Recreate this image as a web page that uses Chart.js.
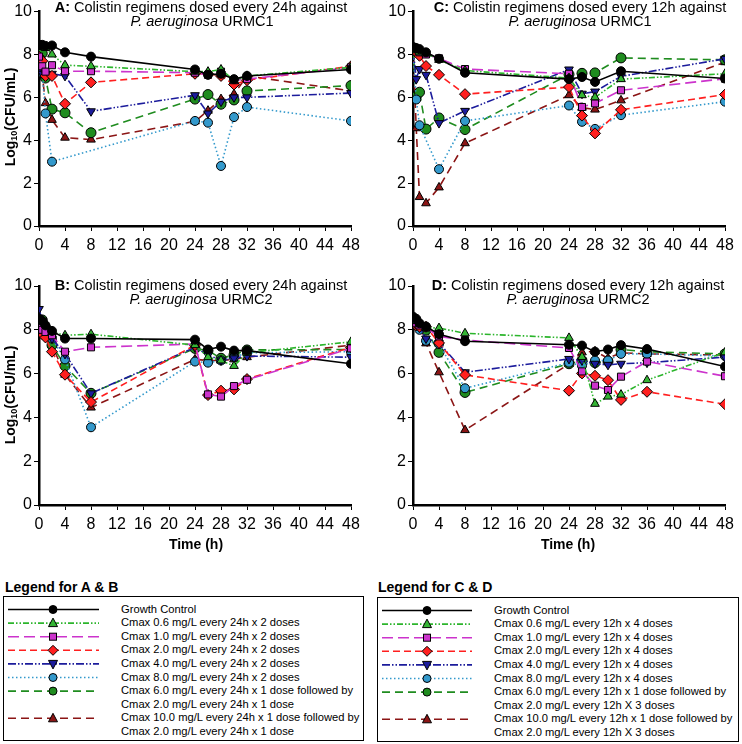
<!DOCTYPE html>
<html>
<head>
<meta charset="utf-8">
<script src="https://cdn.jsdelivr.net/npm/chart.js@4.4.1/dist/chart.umd.min.js"></script>
<style>
  html, body { margin: 0; padding: 0; background: #fff; }
  body { width: 742px; height: 744px; position: relative; overflow: hidden;
         font-family: "Liberation Sans", Arial, sans-serif; color: #000; }
  canvas { position: absolute; }
  .ttl { position: absolute; width: 400px; text-align: center; font-size: 14.5px;
         line-height: 14px; white-space: nowrap; }
  .ylab { position: absolute; width: 200px; text-align: center; font-weight: bold;
          font-size: 14px; transform: translate(-50%, -50%) rotate(-90deg); white-space: nowrap; }
  .ylab sub { font-size: 9px; vertical-align: -2px; }
  .xlab { position: absolute; width: 200px; text-align: center; font-weight: bold; font-size: 14px; }
  .legtitle { position: absolute; font-weight: bold; font-size: 14px; }
  .legbox { position: absolute; border: 1px solid #000; box-sizing: border-box; }
  .legtext { position: absolute; font-size: 11.2px; line-height: 13.6px; white-space: nowrap; }
  .legbox svg { position: absolute; left: 0; top: 0; }
</style>
</head>
<body>
<canvas id="chartA" width="371" height="260" style="left:0;top:0"></canvas>
<canvas id="chartC" width="371" height="260" style="left:371px;top:0"></canvas>
<canvas id="chartB" width="371" height="300" style="left:0;top:260px"></canvas>
<canvas id="chartD" width="371" height="300" style="left:371px;top:260px"></canvas>

<div class="ttl" style="left:1px;top:0"><b>A:</b> Colistin regimens dosed every 24h against</div>
<div class="ttl" style="left:2px;top:14px"><i>P. aeruginosa</i> URMC1</div>
<div class="ttl" style="left:380px;top:0"><b>C:</b> Colistin regimens dosed every 12h against</div>
<div class="ttl" style="left:380px;top:14px"><i>P. aeruginosa</i> URMC1</div>
<div class="ttl" style="left:1px;top:278px"><b>B:</b> Colistin regimens dosed every 24h against</div>
<div class="ttl" style="left:1px;top:292px"><i>P. aeruginosa</i> URMC2</div>
<div class="ttl" style="left:378px;top:278px"><b>D:</b> Colistin regimens dosed every 12h against</div>
<div class="ttl" style="left:378px;top:292px"><i>P. aeruginosa</i> URMC2</div>

<div class="ylab" style="left:10px;top:117px">Log<sub>10</sub>(CFU/mL)</div>
<div class="ylab" style="left:10px;top:395px">Log<sub>10</sub>(CFU/mL)</div>
<div class="xlab" style="left:96px;top:536px">Time (h)</div>
<div class="xlab" style="left:468px;top:536px">Time (h)</div>

<div class="legtitle" style="left:5px;top:579px">Legend for A &amp; B</div>
<div class="legtitle" style="left:378px;top:579px">Legend for C &amp; D</div>
<div class="legbox" id="legAB" style="left:3px;top:596px;width:361px;height:145px"></div>
<div class="legbox" id="legCD" style="left:377px;top:597px;width:362px;height:145px"></div>

<script>
// sampling times (h)
const times24 = [0, 0.5, 1, 2, 4, 8, 24, 26, 28, 30, 32, 48];
const timesC = [0, 0.5, 1, 2, 4, 8, 24, 26, 28, 32, 48];
const timesD = [0, 0.5, 1, 2, 4, 8, 24, 26, 28, 30, 32, 36, 48];

const xTickValues = [0, 4, 8, 12, 16, 20, 24, 28, 32, 36, 40, 44, 48];
const yTickValues = [0, 2, 4, 6, 8, 10];

// log10 CFU/mL, one row per regimen (same order as the legends)
const valuesA = [
  [8.45, 8.45, 8.4, 8.42, 8.1, 7.9, 7.3, 7.05, 7.1, 6.85, 7.0, 7.3],
  [8.4, 8.35, 8.3, 8.0, 7.5, 7.45, 7.2, 7.2, 7.3, 6.8, 7.0, 7.4],
  [7.9, 7.45, 7.2, 7.5, 7.22, 7.22, 7.15, 7.05, 7.2, 6.8, 6.85, 7.4],
  [7.9, 7.7, 7.0, 7.0, 5.7, 6.7, 7.1, 7.1, 7.0, 6.6, 6.8, 7.45],
  [7.3, 7.1, 7.1, 7.1, 7.0, 5.35, 6.1, 5.25, 5.8, 6.0, 6.0, 6.2],
  [7.2, 7.15, 5.25, 3.0, null, null, 4.9, 4.82, 2.8, 5.08, 5.55, 4.9],
  [8.3, 8.05, 6.9, 5.45, 5.28, 4.35, 5.92, 6.13, 5.68, 5.88, 6.3, 6.55],
  [8.45, 7.05, 5.73, 4.95, 4.12, 4.03, 4.88, 5.38, 5.92, 6.15, 7.0, 6.3]
];

const valuesB = [
  [8.5, 8.4, 8.2, 7.95, 7.6, 7.6, 7.55, 7.1, 7.23, 7.05, 7.05, 6.45],
  [8.5, 8.45, 8.3, 7.9, 7.75, 7.8, 7.3, 6.75, 6.6, 6.35, 6.95, 7.45],
  [8.3, 8.0, 7.9, 7.75, 7.0, 7.2, 7.35, 5.05, 4.95, 5.43, 5.72, 7.15],
  [8.4, 7.8, 7.65, 7.0, 5.95, 4.7, 7.3, 5.02, 5.22, 5.28, 5.75, 7.2],
  [8.95, 8.4, 8.1, 7.6, 6.9, 5.1, 7.2, 6.85, 6.6, 6.7, 6.8, 6.75],
  [8.4, 8.2, 8.0, 7.6, 6.65, 3.55, 6.55, 6.5, 6.6, 6.75, 6.95, 7.0],
  [8.4, 8.45, 8.1, 7.3, 6.35, 5.1, 7.15, 7.05, 6.7, 6.85, 7.08, 7.1],
  [8.6, 8.4, 8.15, 7.3, 5.95, 4.45, 6.65, 6.6, 6.6, 6.65, 6.75, 7.3]
];

const valuesC = [
  [8.35, 8.3, 8.25, 8.1, 7.8, 7.15, 6.85, 6.95, 6.72, 7.22, 6.88],
  [8.2, 8.2, 8.1, 8.05, 7.75, 7.25, 6.9, 6.1, 6.0, 6.85, 7.1],
  [8.35, 8.25, 8.1, 8.0, 7.82, 7.32, 7.1, 5.55, 5.72, 6.33, 6.87],
  [8.25, 8.1, 7.94, 7.46, 7.05, 6.15, 6.48, 5.15, 4.32, 5.42, 6.13],
  [8.3, 6.85, 7.32, 7.05, 4.8, 5.37, 7.3, 6.17, 6.27, 6.98, 7.8],
  [8.2, 5.9, 4.7, null, 2.65, 4.9, 5.62, 4.86, 4.53, 5.17, 5.8],
  [8.2, 6.05, 6.24, 4.52, 5.04, 4.5, 7.07, 7.12, 7.14, 7.84, 7.75],
  [8.3, 4.56, 1.35, 1.06, 1.8, 3.86, 6.1, 5.52, 5.43, 5.86, 7.64]
];

const valuesD = [
  [8.6, 8.5, 8.3, 8.15, 7.8, 7.48, 7.32, 7.28, 7.0, 7.1, 7.3, 7.12, 6.32],
  [8.5, 8.4, 8.3, 8.1, 8.08, 7.84, 7.63, 6.76, 4.62, 4.95, 5.04, 5.7, 6.97],
  [8.4, 8.3, 8.2, 8.1, 7.7, 7.53, 7.17, 6.1, 5.45, 5.25, 5.86, 6.55, 5.88],
  [8.3, 8.2, 8.14, 8.14, 7.4, 5.94, 5.22, 6.01, 5.9, 5.7, 4.8, 5.17, 4.6],
  [8.4, 8.3, 8.1, 7.6, 7.4, 6.06, 6.67, 6.6, 6.45, 6.4, 6.45, 6.5, 6.75],
  [8.3, 8.2, 8.0, 7.5, 7.35, 5.33, 6.5, 6.36, 6.6, 6.6, 6.9, 6.9, 6.8],
  [8.3, 8.3, 8.2, 7.99, 6.97, 5.14, 6.45, 6.6, 6.5, 6.55, 7.1, 7.0, 6.9],
  [8.6, 8.3, 8.2, 7.38, 6.06, 3.42, 6.44, 6.97, 7.02, 6.7, 6.95, 6.9, 6.85]
];

const labelsAB = [
  'Growth Control',
  'Cmax 0.6 mg/L every 24h x 2 doses',
  'Cmax 1.0 mg/L every 24h x 2 doses',
  'Cmax 2.0 mg/L every 24h x 2 doses',
  'Cmax 4.0 mg/L every 24h x 2 doses',
  'Cmax 8.0 mg/L every 24h x 2 doses',
  'Cmax 6.0 mg/L every 24h x 1 dose followed by\nCmax 2.0 mg/L every 24h x 1 dose',
  'Cmax 10.0 mg/L every 24h x 1 dose followed by\nCmax 2.0 mg/L every 24h x 1 dose'
];

const labelsCD = [
  'Growth Control',
  'Cmax 0.6 mg/L every 12h x 4 doses',
  'Cmax 1.0 mg/L every 12h x 4 doses',
  'Cmax 2.0 mg/L every 12h x 4 doses',
  'Cmax 4.0 mg/L every 12h x 4 doses',
  'Cmax 8.0 mg/L every 12h x 4 doses',
  'Cmax 6.0 mg/L every 12h x 1 dose followed by\nCmax 2.0 mg/L every 12h X 3 doses',
  'Cmax 10.0 mg/L every 12h x 1 dose followed by\nCmax 2.0 mg/L every 12h X 3 doses'
];

// line / marker look per regimen
const styles = [
  { line: '#000000', fill: '#000000', dash: [], point: 'circle', r: 4.5, rot: 0 },
  { line: '#2cb52c', fill: '#34b534', dash: [6, 2, 1.5, 2, 1.5, 2], point: 'triangle', r: 5, rot: 0 },
  { line: '#cc33cc', fill: '#cc33cc', dash: [11, 5], point: 'rect', r: 5, rot: 0 },
  { line: '#ff1f1f', fill: '#ff1f1f', dash: [7, 4], point: 'rectRot', r: 5.5, rot: 0 },
  { line: '#1c1c9c', fill: '#1c1c9c', dash: [8, 2, 1.5, 2, 1.5, 2], point: 'triangle', r: 5, rot: 180 },
  { line: '#3399cc', fill: '#3399cc', dash: [1.5, 2.5], point: 'circle', r: 4.5, rot: 0 },
  { line: '#1f8c1f', fill: '#1f8c1f', dash: [8, 5], point: 'circle', r: 5, rot: 0 },
  { line: '#8b1515', fill: '#8b1515', dash: [8, 5], point: 'triangle', r: 5, rot: 0 }
];

function makePanel(id, times, values, labels, plot) {
  const canvas = document.getElementById(id);
  const datasets = values.map((vals, i) => {
    const s = styles[i];
    return {
      label: labels[i],
      data: times.map((t, j) => ({ x: t, y: vals[j] })),
      borderColor: s.line,
      borderWidth: 1.6,
      borderDash: s.dash,
      pointStyle: s.point,
      pointRotation: s.rot,
      pointRadius: s.r,
      pointBackgroundColor: s.fill,
      pointBorderColor: '#000',
      pointBorderWidth: 1,
      spanGaps: true,
      tension: 0
    };
  });
  const tickFont = { family: '"Liberation Sans", Arial, sans-serif', size: 16 };
  return new Chart(canvas, {
    type: 'line',
    data: { datasets },
    options: {
      responsive: false,
      animation: false,
      devicePixelRatio: 1,
      layout: { padding: { top: plot.top, right: canvas.width - plot.right, left: 0, bottom: 0 } },
      plugins: { legend: { display: false }, tooltip: { enabled: false } },
      scales: {
        x: {
          type: 'linear', min: 0, max: 48,
          afterBuildTicks: s => { s.ticks = xTickValues.map(v => ({ value: v })); },
          afterFit: s => { s.height = canvas.height - plot.bottom; },
          ticks: { color: '#000', font: tickFont, padding: 5, maxRotation: 0, autoSkip: false },
          grid: { drawOnChartArea: false, tickLength: 5, color: '#000', lineWidth: 1 },
          border: { color: '#000', width: 2.5 }
        },
        y: {
          min: 0, max: 10,
          afterBuildTicks: s => { s.ticks = yTickValues.map(v => ({ value: v })); },
          afterFit: s => { s.width = plot.left; },
          ticks: { color: '#000', font: tickFont, padding: 2 },
          grid: { drawOnChartArea: false, tickLength: 5, color: '#000', lineWidth: 1 },
          border: { color: '#000', width: 2.5 }
        }
      }
    }
  });
}

makePanel('chartA', times24, valuesA, labelsAB, { left: 39, right: 351, top: 8, bottom: 226 });
makePanel('chartC', timesC, valuesC, labelsCD, { left: 42, right: 354, top: 8, bottom: 226 });
makePanel('chartB', times24, valuesB, labelsAB, { left: 39, right: 351, top: 26, bottom: 245 });
makePanel('chartD', timesD, valuesD, labelsCD, { left: 42, right: 354, top: 26, bottom: 245 });

// legends: line samples drawn as svg, labels as text
function markerSvg(s, cx, cy) {
  const stroke = 'stroke="#000" stroke-width="1" fill="' + s.fill + '"';
  if (s.point === 'circle') return '<circle cx="' + cx + '" cy="' + cy + '" r="4" ' + stroke + '/>';
  if (s.point === 'rect') return '<rect x="' + (cx - 3.5) + '" y="' + (cy - 3.5) + '" width="7" height="7" ' + stroke + '/>';
  if (s.point === 'rectRot') {
    return '<polygon points="' + [[cx, cy - 5], [cx + 5, cy], [cx, cy + 5], [cx - 5, cy]].join(' ') + '" ' + stroke + '/>';
  }
  const d = s.rot === 180 ? -1 : 1;
  return '<polygon points="' + [[cx, cy - 5 * d], [cx + 4.5, cy + 3.5 * d], [cx - 4.5, cy + 3.5 * d]].join(' ') + '" ' + stroke + '/>';
}

function makeLegend(id, labels, lineX0, lineX1, markX, textX) {
  const box = document.getElementById(id);
  let svg = '<svg width="' + box.clientWidth + '" height="' + box.clientHeight + '">';
  let html = '';
  let row = 0;
  labels.forEach((lab, i) => {
    const s = styles[i];
    const cy = 12.5 + row * 13.6;
    svg += '<line x1="' + lineX0 + '" y1="' + cy + '" x2="' + lineX1 + '" y2="' + cy +
      '" stroke="' + s.line + '" stroke-width="1.6" stroke-dasharray="' + (s.dash.length ? s.dash.join(',') : 'none') + '"/>';
    svg += markerSvg(s, markX, cy);
    const lines = lab.split('\n');
    html += '<div class="legtext" style="left:' + textX + 'px;top:' + (cy - 7) + 'px">' + lines.join('<br>') + '</div>';
    row += lines.length;
  });
  svg += '</svg>';
  box.innerHTML = svg + html;
}

makeLegend('legAB', labelsAB, 4, 95, 49, 117);
makeLegend('legCD', labelsCD, 4, 94, 49, 116);
</script>
</body>
</html>
